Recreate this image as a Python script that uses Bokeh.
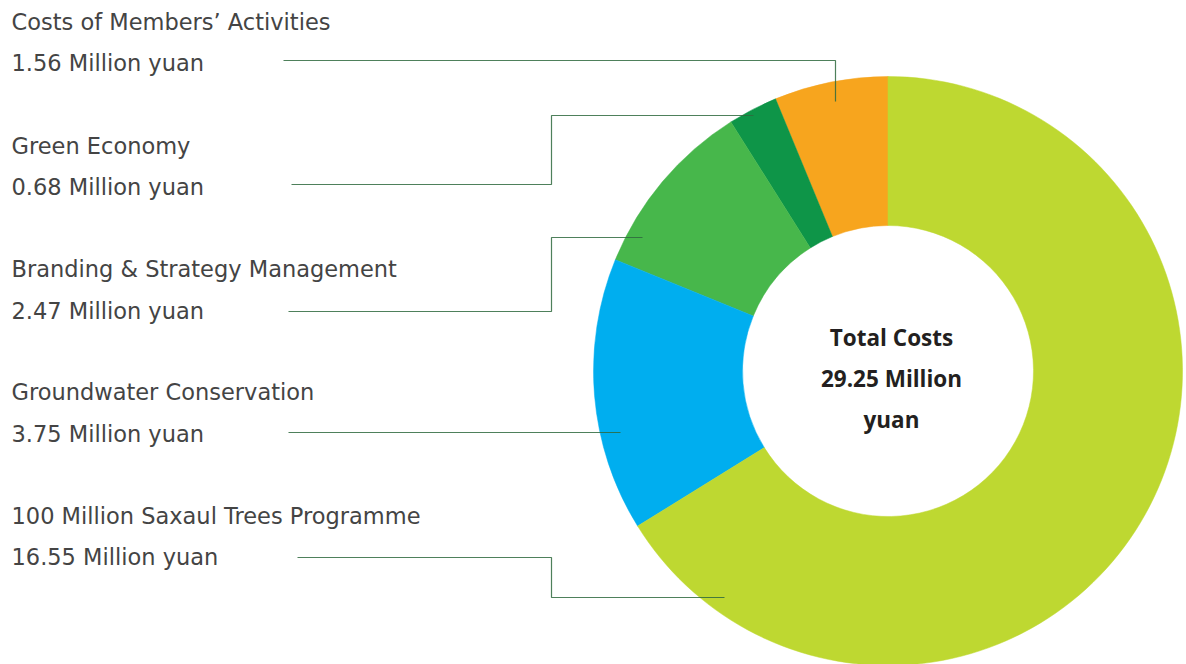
import numpy as np
from bokeh.plotting import figure
from bokeh.models import Range1d, ColumnDataSource
from bokeh.core.properties import value
from bokeh.embed import file_html
from bokeh.resources import INLINE

# ---- data ----
categories = ["Costs of Members’ Activities", "Green Economy",
              "Branding & Strategy Management", "Groundwater Conservation",
              "100 Million Saxaul Trees Programme"]
values = [1.56, 0.68, 2.47, 3.75, 16.55]
value_labels = ["1.56 Million yuan", "0.68 Million yuan", "2.47 Million yuan",
                "3.75 Million yuan", "16.55 Million yuan"]
center_labels = ["Total Costs", "29.25 Million", "yuan"]
colors = ["#F7A51E", "#0E9548", "#47B74B", "#00AEEF", "#BED831"]

W, H = 1186, 664

def py(y):  # pixel-from-top to data y
    return H - y

p = figure(width=W, height=H, output_backend="svg", toolbar_location=None,
           x_range=Range1d(0, W), y_range=Range1d(0, H), min_border=0)
p.axis.visible = False
p.grid.visible = False
p.outline_line_color = None
p.background_fill_color = "white"
p.border_fill_color = "white"

# donut
cx, cy = 887.5, py(370.5)
R_out, R_in = 294.5, 145.5
vals = np.array(values)
frac = vals / vals.sum()
ends = np.cumsum(frac) * 2 * np.pi
starts = ends - frac * 2 * np.pi
src = ColumnDataSource(dict(start=np.pi / 2 + starts, end=np.pi / 2 + ends,
                            color=colors, cat=categories))
p.annular_wedge(x=cx, y=cy, inner_radius=R_in, outer_radius=R_out,
                start_angle="start", end_angle="end", direction="anticlock",
                fill_color="color", line_color="color", line_width=0.5, source=src)

# labels
label_y_top = [21, 145, 268, 391, 515]
label_y_val = [62, 186, 310, 433, 556]
p.text(x=[11] * 5, y=[py(v) for v in label_y_top], text=categories,
       text_font=value("DejaVu Sans"), text_font_size="22.5px", text_color="#444444",
       text_baseline="middle", text_align="left")
p.text(x=[11] * 5, y=[py(v) for v in label_y_val], text=value_labels,
       text_font=value("DejaVu Sans"), text_font_size="22.5px", text_color="#444444",
       text_baseline="middle", text_align="left")

# centre
p.text(x=[891] * 3, y=[py(337), py(378), py(419)], text=center_labels,
       text_font=value("Open Sans"), text_font_style="bold", text_font_size="22.5px",
       text_color="#231F20", text_baseline="middle", text_align="center")

# leader lines (layout)
leaders = [
    [(283, 60), (835, 60), (835, 101)],
    [(291, 184), (551, 184), (551, 115), (753, 115)],
    [(288, 311), (551, 311), (551, 237), (642, 237)],
    [(288, 432), (620, 432)],
    [(297, 557), (551, 557), (551, 597), (724, 597)],
]
p.multi_line(xs=[[a for a, b in l] for l in leaders],
             ys=[[py(b) for a, b in l] for l in leaders],
             line_color="#2F6A3E", line_width=1.2, line_alpha=0.85)

html = file_html(p, INLINE)
html = html.replace("<head>", "<head><style>html,body{margin:0;padding:0;overflow:hidden}</style>", 1)
open("out.html", "w").write(html)
